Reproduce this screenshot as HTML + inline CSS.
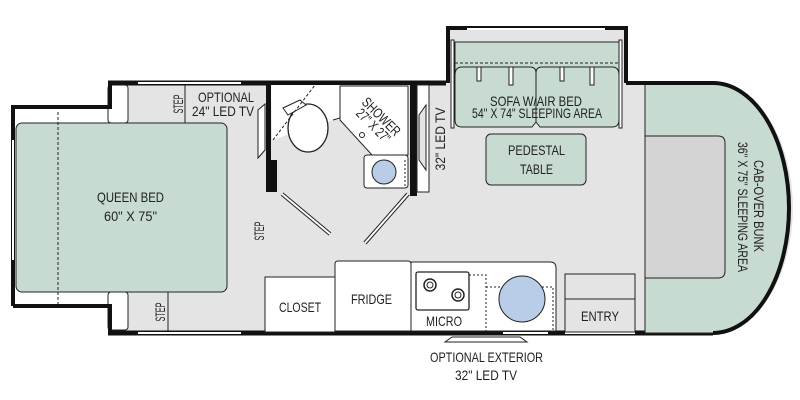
<!DOCTYPE html>
<html><head><style>
html,body{margin:0;padding:0;background:#fff;}
svg{display:block;}
text{font-family:"Liberation Sans",sans-serif;fill:#222;font-size:14px;}
</style></head><body>
<svg width="800" height="400" viewBox="0 0 800 400">
<rect width="800" height="400" fill="#fff"/>
<!-- floor main -->
<path d="M108 83 H713 A80 125 0 0 1 713 333 H108 Z" fill="#e4e4e4"/>
<!-- rear bed section -->
<rect x="13" y="105" width="100" height="203" fill="#fff"/>
<rect x="108" y="85" width="20" height="38" rx="3" fill="#fff" stroke="#222" stroke-width="1"/>
<rect x="108" y="292" width="20" height="38" rx="3" fill="#fff" stroke="#222" stroke-width="1"/>
<rect x="16" y="123" width="211" height="169" rx="6" fill="#c8dbd0" stroke="#222" stroke-width="1"/>
<line x1="58" y1="112" x2="58" y2="305" stroke="#222" stroke-dasharray="3,2"/>
<!-- outer walls -->
<path d="M13 306 V107 H110 V83" fill="none" stroke="#111" stroke-width="4"/>
<path d="M13 306 H110 V333" fill="none" stroke="#111" stroke-width="4"/>
<line x1="108" y1="83" x2="446" y2="83" stroke="#111" stroke-width="5"/>
<line x1="108" y1="333" x2="713" y2="333" stroke="#111" stroke-width="5"/>
<line x1="138" y1="83" x2="241" y2="83" stroke="#fff" stroke-width="2"/>
<line x1="138" y1="333" x2="241" y2="333" stroke="#fff" stroke-width="2"/>
<line x1="503" y1="333" x2="548" y2="333" stroke="#fff" stroke-width="2"/>
<line x1="565" y1="333" x2="635" y2="333" stroke="#fff" stroke-width="2"/>
<line x1="13" y1="140" x2="13" y2="260" stroke="#fff" stroke-width="2"/>
<!-- step boxes -->
<line x1="185" y1="85" x2="185" y2="123" stroke="#222"/>
<line x1="168" y1="292" x2="168" y2="331" stroke="#222"/>
<text transform="translate(183,104) rotate(-90)" font-size="10" text-anchor="middle" textLength="19" lengthAdjust="spacingAndGlyphs">STEP</text>
<text transform="translate(165,312) rotate(-90)" font-size="10" text-anchor="middle" textLength="19" lengthAdjust="spacingAndGlyphs">STEP</text>
<text transform="translate(264,231) rotate(-90)" font-size="10" text-anchor="middle" textLength="19" lengthAdjust="spacingAndGlyphs">STEP</text>
<text x="198" y="102" textLength="56" lengthAdjust="spacingAndGlyphs">OPTIONAL</text>
<text x="192" y="116" textLength="62" lengthAdjust="spacingAndGlyphs">24" LED TV</text>
<path d="M258 110 L265 104 V150 L258 158 Z" fill="#fff" stroke="#222"/>
<text x="97" y="202" textLength="67" lengthAdjust="spacingAndGlyphs">QUEEN BED</text>
<text x="104" y="221" textLength="53" lengthAdjust="spacingAndGlyphs">60" X 75"</text>
<!-- bathroom -->
<rect x="270" y="85" width="143" height="108" fill="#e4e4e4"/>
<path d="M271 85 H340 V120 L333 120 L272 140 Z" fill="#fff"/>
<rect x="266" y="81" width="5" height="100" fill="#111"/>
<rect x="266" y="160" width="11" height="32" fill="#111"/>
<rect x="410" y="81" width="7" height="115" fill="#111"/>
<path d="M340 86 H408 V155 H372 L340 120 Z" fill="#fff" stroke="#222"/>
<rect x="364" y="155" width="44" height="33" rx="3" fill="#fff" stroke="#222"/>
<circle cx="384" cy="172" r="12" fill="#b9cde8" stroke="#222"/>
<circle cx="362" cy="135" r="2.5" fill="#fff" stroke="#222"/>
<text transform="translate(378,120) rotate(45)" font-size="13" text-anchor="middle" textLength="48" lengthAdjust="spacingAndGlyphs">SHOWER</text>
<text transform="translate(370,129) rotate(45)" font-size="13" text-anchor="middle" textLength="42" lengthAdjust="spacingAndGlyphs">27" X 27"</text>
<ellipse cx="308" cy="128" rx="20" ry="24" fill="#fff" stroke="#222" stroke-width="1.3"/>
<path d="M283 108 L300 100 L306 105 L288 115 Z" fill="#fff" stroke="#222"/>
<line x1="273" y1="140" x2="315" y2="85" stroke="#222" stroke-dasharray="3,2"/>
<line x1="333" y1="120" x2="340" y2="118" stroke="#222"/>
<line x1="282" y1="194" x2="330" y2="234" stroke="#222" stroke-width="4"/>
<line x1="282" y1="194" x2="330" y2="234" stroke="#fff" stroke-width="2"/>
<line x1="408" y1="194" x2="365" y2="243" stroke="#222" stroke-width="4"/>
<line x1="408" y1="194" x2="365" y2="243" stroke="#fff" stroke-width="2"/>
<line x1="405" y1="160" x2="405" y2="188" stroke="#222" stroke-dasharray="2,2"/>
<!-- 32 tv -->
<rect x="417" y="85" width="12" height="107" fill="#fff" stroke="#222"/>
<path d="M419 115 L426 105 V170 L419 160 Z" fill="#e4e4e4" stroke="#222"/>
<text transform="translate(445,139) rotate(-90)" text-anchor="middle" textLength="63" lengthAdjust="spacingAndGlyphs">32" LED TV</text>
<!-- slideout -->
<rect x="448" y="29" width="177" height="54" fill="#e4e4e4"/>
<path d="M448 83 V28 H626 V83" fill="none" stroke="#111" stroke-width="4"/>
<line x1="467" y1="29" x2="605" y2="29" stroke="#fff" stroke-width="2"/>
<rect x="451" y="40" width="3" height="88" fill="#fff" stroke="#222"/>
<rect x="619" y="40" width="3" height="88" fill="#fff" stroke="#222"/>
<path d="M455 42 H619 V120 Q619 127 612 127 H540 L536 122 L532 127 H462 Q455 127 455 120 Z" fill="#c8dbd0" stroke="#222"/>
<line x1="455" y1="63" x2="619" y2="63" stroke="#222" stroke-dasharray="3,2"/>
<path d="M455 75 Q455 67 462 67 H530 Q536 67 536 73 Q536 67 542 67 H612 Q619 67 619 75" fill="none" stroke="#222"/>
<line x1="536" y1="73" x2="536" y2="122" stroke="#222"/>
<g fill="#fff" stroke="#222"><rect x="477" y="67" width="4" height="14"/><rect x="509" y="67" width="4" height="18"/><rect x="560" y="67" width="4" height="14"/><rect x="590" y="67" width="4" height="18"/></g>
<text x="490" y="106" textLength="92" lengthAdjust="spacingAndGlyphs">SOFA W/AIR BED</text>
<text x="472" y="118" font-size="13" textLength="130" lengthAdjust="spacingAndGlyphs">54" X 74" SLEEPING AREA</text>
<rect x="486" y="134" width="100" height="51" rx="5" fill="#c8dbd0" stroke="#222"/>
<text x="508" y="155" textLength="57" lengthAdjust="spacingAndGlyphs">PEDESTAL</text>
<text x="520" y="174" textLength="33" lengthAdjust="spacingAndGlyphs">TABLE</text>
<!-- cab -->
<path d="M645 83 H713 A75 125 0 0 1 713 333 H645 Z" fill="#c8dbd0" stroke="#222"/>
<path d="M626 83 H713 A76 125 0 0 1 713 333" fill="none" stroke="#111" stroke-width="4"/>
<path d="M645 136 H718 Q725 136 725 143 V271 Q725 278 718 278 H645 Z" fill="#d4d4d4" stroke="#222"/>
<text transform="translate(754,206) rotate(90)" text-anchor="middle" textLength="92" lengthAdjust="spacingAndGlyphs">CAB-OVER BUNK</text>
<text transform="translate(738,207) rotate(90)" text-anchor="middle" textLength="130" lengthAdjust="spacingAndGlyphs">36" X 75" SLEEPING AREA</text>
<!-- closet fridge kitchen -->
<rect x="265" y="277" width="70" height="55" fill="#fff" stroke="#222"/>
<text x="279" y="312" textLength="42" lengthAdjust="spacingAndGlyphs">CLOSET</text>
<path d="M335 331 V264 Q335 261 338 261 H408 Q411 261 411 264 V331 Z" fill="#fff" stroke="#222"/>
<text x="351" y="304" textLength="41" lengthAdjust="spacingAndGlyphs">FRIDGE</text>
<path d="M411 331 V262 H550 Q556 262 556 268 V331 Z" fill="#fff" stroke="#222"/>
<rect x="416" y="272" width="53" height="38" rx="2" fill="#fff" stroke="#222" stroke-width="1.3"/>
<circle cx="430" cy="285" r="6" fill="#fff" stroke="#222" stroke-width="1.5"/><circle cx="430" cy="285" r="3" fill="none" stroke="#222"/>
<circle cx="458" cy="295" r="6" fill="#fff" stroke="#222" stroke-width="1.5"/><circle cx="458" cy="295" r="3" fill="none" stroke="#222"/>
<text x="426" y="326" textLength="36" lengthAdjust="spacingAndGlyphs">MICRO</text>
<path d="M469 275 H486 V331 M486 287 H553 V331" fill="none" stroke="#222" stroke-dasharray="2,2"/>
<circle cx="522" cy="299" r="23" fill="#b9cde8" stroke="#222"/>
<rect x="565" y="274" width="70" height="58" fill="#e4e4e4" stroke="#222"/>
<line x1="565" y1="299" x2="635" y2="299" stroke="#222"/>
<text x="581" y="321" textLength="38" lengthAdjust="spacingAndGlyphs">ENTRY</text>
<!-- exterior tv -->
<path d="M445 342 L452 337 H520 L527 342 Z" fill="#fff" stroke="#222"/>
<text x="430" y="362" textLength="113" lengthAdjust="spacingAndGlyphs">OPTIONAL EXTERIOR</text>
<text x="455" y="380" textLength="62" lengthAdjust="spacingAndGlyphs">32" LED TV</text>
</svg>
</body></html>
